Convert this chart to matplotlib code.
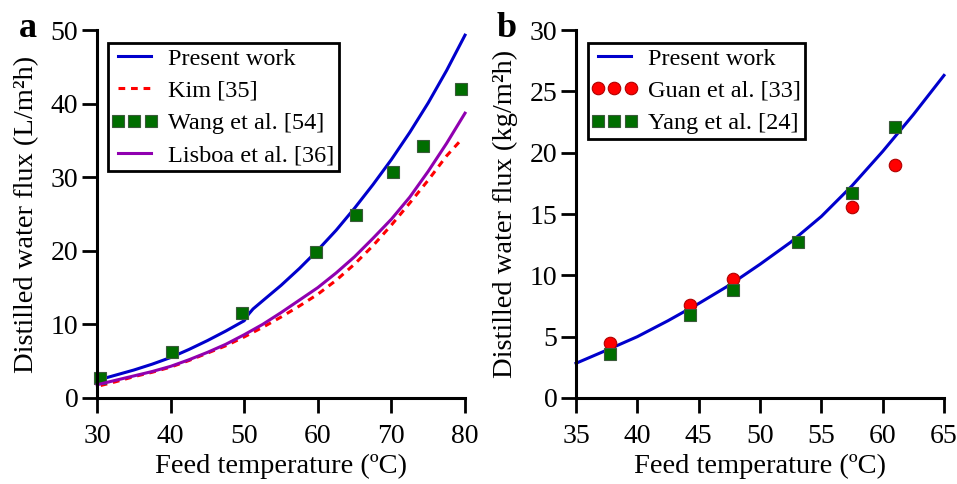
import matplotlib
matplotlib.use("Agg")
import matplotlib.pyplot as plt
from matplotlib.lines import Line2D
from matplotlib.legend_handler import HandlerLine2D

plt.rcParams['font.family'] = ['Liberation Serif', 'DejaVu Serif']
plt.rcParams['font.size'] = 20

# Panel a data
a_present_x = [30, 32.5, 35, 37.5, 40, 42.5, 45, 47.5, 50, 50.6, 51.2, 52.5, 55, 57.5, 60,
               62.5, 65, 67.5, 70, 72.5, 75, 77.5, 80]
a_present_y = [2.4, 3.1, 3.8, 4.6, 5.5, 6.6, 7.8, 9.1, 10.5, 11.4, 12.1, 13.2, 15.3, 17.6, 20.1,
               22.8, 25.8, 29.0, 32.4, 36.1, 40.1, 44.5, 49.3]
a_kim_x = [30.5, 32.5, 35, 37.5, 40, 42.5, 45, 47.5, 50, 52.5, 55, 57.5, 60, 62.5, 65,
           67.5, 70, 72.5, 75, 77.5, 79.5]
a_kim_y = [1.7, 2.2, 2.9, 3.5, 4.2, 5.1, 6.1, 7.1, 8.3, 9.6, 11.0, 12.5, 14.1, 16.0, 18.2,
           20.7, 23.5, 26.5, 29.6, 32.9, 35.1]
a_lisboa_x = [30, 32.5, 35, 37.5, 40, 42.5, 45, 47.5, 50, 52.5, 55, 57.5, 60, 62.5, 65,
              67.5, 70, 72.5, 75, 77.5, 80]
a_lisboa_y = [1.8, 2.4, 3.0, 3.6, 4.3, 5.2, 6.2, 7.3, 8.6, 10.0, 11.6, 13.3, 15.0, 17.0, 19.2,
              21.7, 24.3, 27.3, 30.8, 34.6, 38.7]
a_wang_x = [30.4, 40.2, 49.7, 59.8, 65.2, 70.2, 74.3, 79.4]
a_wang_y = [2.7, 6.3, 11.5, 19.9, 24.8, 30.7, 34.2, 42.0]

# Panel b data
b_present_x = [35, 37.5, 40, 42.5, 45, 47.5, 50, 52.5, 55, 57.5, 60, 62.5, 65]
b_present_y = [2.83, 3.9, 5.0, 6.3, 7.7, 9.2, 10.9, 12.7, 14.8, 17.3, 20.1, 23.1, 26.3]
b_guan_x = [37.8, 44.3, 47.8, 57.5, 61.0]
b_guan_y = [4.5, 7.6, 9.7, 15.6, 19.0]
b_yang_x = [37.8, 44.3, 47.8, 53.1, 57.5, 61.0]
b_yang_y = [3.6, 6.8, 8.8, 12.7, 16.7, 22.1]

blue = '#0000CC'
red = '#FF0000'
green = '#006E00'
purple = '#9000B0'

fig = plt.figure(figsize=(9.57, 4.84), dpi=100)
ax1 = fig.add_axes([0.1014, 0.1777, 0.3845, 0.7603])
ax2 = fig.add_axes([0.6019, 0.1777, 0.3845, 0.7603])

def style(ax):
    for s in ['top', 'right']:
        ax.spines[s].set_visible(False)
    for s in ['left', 'bottom']:
        ax.spines[s].set_linewidth(2.2)
    ax.tick_params(direction='out', length=10.5, width=2, labelsize=20)
    ax.tick_params(axis='x', pad=8)
    ax.tick_params(axis='y', pad=3)

leg_kw = dict(loc='upper left', borderaxespad=0, fancybox=False, edgecolor='black',
              framealpha=1, fontsize=17.5, numpoints=3, handlelength=1.75,
              handletextpad=0.5, labelspacing=0.42, borderpad=0.2,
              handler_map={Line2D: HandlerLine2D(marker_pad=0.2)})

ax1.plot(a_present_x, a_present_y, color=blue, lw=2.2, label='Present work')
ax1.plot(a_kim_x, a_kim_y, color=red, lw=2.2, ls=(0, (2.2, 1.9)), label='Kim [35]')
ax1.plot(a_wang_x, a_wang_y, ls='none', marker='s', ms=9, mfc=green, mec='#3a5a3a', mew=0.8,
         label='Wang et al. [54]')
ax1.plot(a_lisboa_x, a_lisboa_y, color=purple, lw=2.2, label='Lisboa et al. [36]')
ax1.set_xlim(30, 80)
ax1.set_ylim(0, 50)
ax1.set_xticks([30, 40, 50, 60, 70, 80])
ax1.set_yticks([0, 10, 20, 30, 40, 50])
style(ax1)
ax1.set_xlabel('Feed temperature (ºC)', fontsize=20.5, labelpad=4)
ax1.set_ylabel('Distilled water flux (L/m²h)', fontsize=20.5, labelpad=8)
leg1 = ax1.legend(bbox_to_anchor=(0.03, 0.965), **leg_kw)
leg1.get_frame().set_linewidth(2)

ax2.plot(b_present_x, b_present_y, color=blue, lw=2.2, label='Present work')
ax2.plot(b_guan_x, b_guan_y, ls='none', marker='o', ms=9, mfc=red, mec='#B00000', mew=0.8,
         label='Guan et al. [33]')
ax2.plot(b_yang_x, b_yang_y, ls='none', marker='s', ms=9, mfc=green, mec='#3a5a3a', mew=0.8,
         label='Yang et al. [24]')
ax2.set_xlim(35, 65)
ax2.set_ylim(0, 30)
ax2.set_xticks([35, 40, 45, 50, 55, 60, 65])
ax2.set_yticks([0, 5, 10, 15, 20, 25, 30])
style(ax2)
ax2.set_xlabel('Feed temperature (ºC)', fontsize=20.5, labelpad=4)
ax2.set_ylabel('Distilled water flux (kg/m²h)', fontsize=20.5, labelpad=8)
leg2 = ax2.legend(bbox_to_anchor=(0.033, 0.965), **leg_kw)
leg2.get_frame().set_linewidth(2)

for ax in (ax1, ax2):
    for a in ax.lines:
        a.set_clip_on(False)

fig.text(19/957, 1 - 37/484, 'a', fontsize=26, fontweight='bold', ha='left', va='baseline')
fig.text(497/957, 1 - 37/484, 'b', fontsize=26, fontweight='bold', ha='left', va='baseline')

fig.savefig('out.png', dpi=100)
